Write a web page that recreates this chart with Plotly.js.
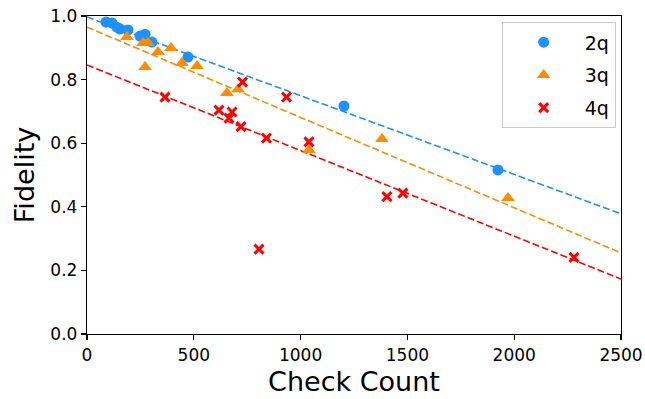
<!DOCTYPE html>
<html>
<head>
<meta charset="utf-8">
<script src="https://cdn.plot.ly/plotly-3.0.1.min.js"></script>
<style>
  html, body { margin: 0; padding: 0; background: #fff; }
  #chart { width: 645px; height: 399px; }
</style>
</head>
<body>
<div id="chart"></div>
<script>
// Measured fidelity versus check count, per qubit count
const x2q = [89, 117, 140, 155, 192, 248, 272, 304, 473, 1203, 1924];
const y2q = [0.981, 0.978, 0.965, 0.959, 0.956, 0.937, 0.943, 0.918, 0.871, 0.717, 0.516];

const x3q = [187, 262, 286, 272, 332, 393, 445, 515, 655, 707, 1039, 1381, 1971];
const y3q = [0.934, 0.915, 0.915, 0.840, 0.887, 0.899, 0.852, 0.843, 0.758, 0.770, 0.579, 0.613, 0.428];

const x4q = [365, 618, 679, 665, 721, 728, 840, 934, 1039, 805, 1404, 1479, 2280];
const y4q = [0.745, 0.704, 0.698, 0.679, 0.652, 0.792, 0.616, 0.745, 0.604, 0.267, 0.432, 0.443, 0.241];

// Linear fit lines, given by their end points over the x range
const fitX = [0, 2500];
const fit2q = [0.997, 0.378];
const fit3q = [0.965, 0.255];
const fit4q = [0.846, 0.173];

const seriesNames = ['2q', '3q', '4q'];
const colors = ['#1e90ff', '#ff8c00', '#ff0000'];

const dashStyle = '7px,3px';
function fitLine(y, color) {
  return {
    x: fitX, y: y, mode: 'lines', type: 'scatter', showlegend: false,
    hoverinfo: 'skip',
    line: { color: color, width: 1.6, dash: dashStyle }
  };
}

const data = [
  fitLine(fit2q, colors[0]),
  fitLine(fit3q, colors[1]),
  fitLine(fit4q, colors[2]),
  {
    x: x2q, y: y2q, name: seriesNames[0], mode: 'markers', type: 'scatter',
    legendgroup: 'a',
    marker: { symbol: 'circle', size: 11, color: colors[0] }
  },
  {
    x: x3q, y: y3q, name: seriesNames[1], mode: 'markers', type: 'scatter',
    legendgroup: 'b',
    marker: { symbol: 'triangle-up', size: 12, color: colors[1] }
  },
  {
    x: x4q, y: y4q, name: seriesNames[2], mode: 'markers', type: 'scatter',
    legendgroup: 'c',
    marker: { symbol: 'x-thin', size: 9, color: colors[2],
              line: { color: colors[2], width: 3 } }
  }
];

const axisCommon = {
  showline: true, linecolor: '#000', linewidth: 1.2, mirror: true,
  ticks: 'outside', ticklen: 5, tickwidth: 1.2, tickcolor: '#000',
  showgrid: false, zeroline: false,
  tickfont: { family: 'DejaVu Sans', size: 17, color: '#000' }
};

const layout = {
  width: 645, height: 399,
  margin: { l: 87, r: 24, t: 16, b: 65 },
  paper_bgcolor: '#fff', plot_bgcolor: '#fff',
  font: { family: 'DejaVu Sans', color: '#000' },
  xaxis: Object.assign({}, axisCommon, {
    range: [0, 2500], tickvals: [0, 500, 1000, 1500, 2000, 2500],
    title: { text: 'Check Count', font: { size: 27 }, standoff: 8 }
  }),
  yaxis: Object.assign({}, axisCommon, {
    range: [0, 1], tickvals: [0, 0.2, 0.4, 0.6, 0.8, 1.0], tickformat: '.1f',
    title: { text: 'Fidelity', font: { size: 27 }, standoff: 8 }
  }),
  legend: {
    x: 0.99, xanchor: 'right', y: 0.98, yanchor: 'top',
    bgcolor: '#fff', bordercolor: '#cccccc', borderwidth: 1,
    font: { family: 'DejaVu Sans', size: 19, color: '#000' },
    tracegroupgap: 5, itemwidth: 72
  }
};

Plotly.newPlot('chart', data, layout, { displayModeBar: false, staticPlot: true });
</script>
</body>
</html>
